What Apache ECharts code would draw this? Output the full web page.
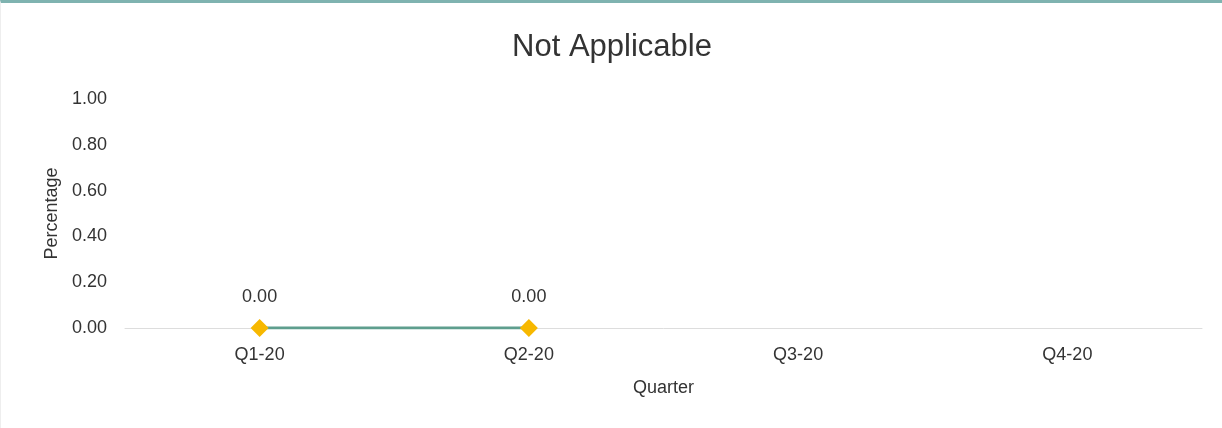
<!DOCTYPE html>
<html><head><meta charset="utf-8">
<script src="https://cdn.jsdelivr.net/npm/echarts@6/dist/echarts.min.js"></script>
<style>
html,body{margin:0;padding:0;background:#fff;}
#wrap{position:absolute;left:0;top:0;width:1222px;height:428px;border-top:3px solid #7fb3b0;border-left:1px solid #eee;box-sizing:border-box;}
#c{width:1222px;height:425px;}
</style></head>
<body><div id="wrap"><div id="c"></div></div>
<script>
const titleText = "Not Applicable";
const categories = ["Q1-20", "Q2-20", "Q3-20", "Q4-20"];
const values = [0, 0, null, null];
const yTicks = [0, 0.2, 0.4, 0.6, 0.8, 1.0];
const fontFam = "'Liberation Sans Narrow', 'Arial Narrow', 'Liberation Sans', sans-serif";

const chart = echarts.init(document.getElementById('c'));
chart.setOption({
  animation: false,
  title: { text: titleText, left: 'center', top: 24, textStyle: { fontFamily: "'Liberation Sans', Arial, sans-serif", fontWeight: 'normal', fontSize: 31, color: '#333' } },
  grid: { left: 124, right: 21, top: 96, bottom: 100, containLabel: false },
  xAxis: {
    type: 'category', data: categories, boundaryGap: true,
    name: 'Quarter', nameLocation: 'middle', nameGap: 51,
    nameTextStyle: { fontFamily: fontFam, fontSize: 18, color: '#333' },
    axisLine: { lineStyle: { color: '#ddd', width: 1 } },
    axisTick: { show: false },
    axisLabel: { fontFamily: fontFam, fontSize: 18, color: '#333', margin: 18 }
  },
  yAxis: {
    type: 'value', min: yTicks[0], max: yTicks[yTicks.length - 1], interval: 0.2,
    name: 'Percentage', nameLocation: 'middle', nameGap: 60,
    nameTextStyle: { fontFamily: fontFam, fontSize: 18, color: '#333' },
    axisLine: { show: false }, axisTick: { show: false },
    splitLine: { show: false },
    axisLabel: { fontFamily: fontFam, fontSize: 18, color: '#333', margin: 18, formatter: v => v.toFixed(2) }
  },
  series: [{
    type: 'line', data: values,
    lineStyle: { color: '#5e9e8e', width: 3 },
    itemStyle: { color: '#f7b800' },
    symbol: 'diamond', symbolSize: 18,
    label: { show: true, position: 'top', distance: 13, fontFamily: fontFam, fontSize: 18, color: '#333', formatter: p => p.value.toFixed(2) }
  }]
});
</script></body></html>
